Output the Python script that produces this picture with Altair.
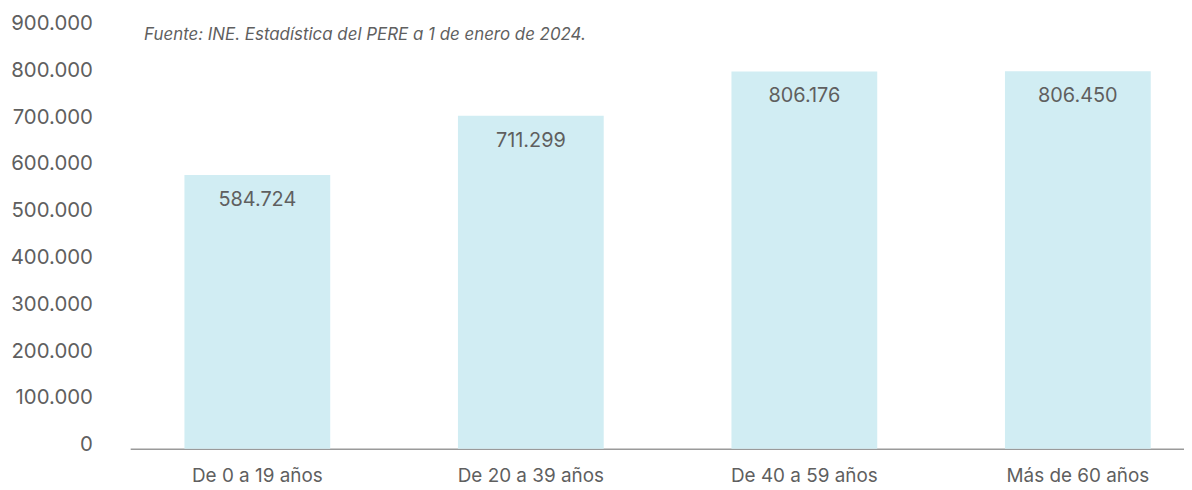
import altair as alt
import pandas as pd

categories = ["De 0 a 19 años", "De 20 a 39 años", "De 40 a 59 años", "Más de 60 años"]
values = [584724, 711299, 806176, 806450]
source_text = "Fuente: INE. Estadística del PERE a 1 de enero de 2024."

df = pd.DataFrame({"grupo": categories, "valor": values})

FONT = "Inter"
GREY = "#5f5f5f"
BAR = "#d1edf3"

x_enc = alt.X(
    "grupo:N",
    sort=categories,
    scale=alt.Scale(paddingInner=0.467, paddingOuter=0.16, align=0.62),
    axis=alt.Axis(
        title=None, labelAngle=0, ticks=False, domain=True, domainColor="#9a9a9a",
        domainWidth=1.5, labelFontSize=19, labelColor=GREY, labelFont=FONT,
        labelPadding=18, grid=False,
    ),
)
y_enc = alt.Y(
    "valor:Q",
    scale=alt.Scale(domain=[0, 900000], nice=False),
    axis=alt.Axis(
        title=None, values=[i * 100000 for i in range(10)], grid=False, ticks=False,
        domain=False, labelFontSize=20.5, labelColor=GREY, labelFont=FONT,
        labelPadding=38, labelOffset=-4,
        labelExpr="join(split(format(datum.value, ','), ','), '.')",
    ),
)

base = alt.Chart(df)
bars = base.mark_bar(color=BAR).encode(x=x_enc, y=y_enc)
labels = base.mark_text(
    dy=25, baseline="middle", align="center", fontSize=20, color=GREY, font=FONT
).encode(
    x=alt.X("grupo:N", sort=categories),
    y="valor:Q",
    text=alt.Text("lbl:N"),
).transform_calculate(lbl="join(split(format(datum.valor, ','), ','), '.')")

src = alt.Chart(pd.DataFrame({"t": [source_text]})).mark_text(
    align="left", baseline="middle", fontSize=17, fontStyle="italic", color=GREY, font=FONT
).encode(text="t:N", x=alt.value(14), y=alt.value(8))

chart = alt.layer(bars, labels, src).properties(
    width=1061, height=424,
    autosize=alt.AutoSizeParams(type="none"),
    padding={"left": 123, "top": 18, "right": 0, "bottom": 40},
).configure_view(stroke=None)

chart.save("out.html", embed_options={"renderer": "svg", "actions": False})
